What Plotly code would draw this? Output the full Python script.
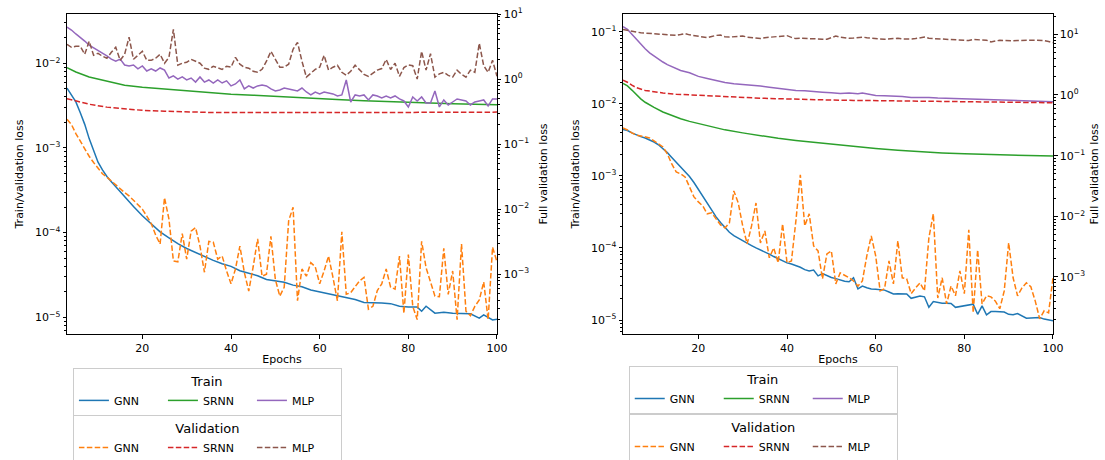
import plotly.graph_objects as go

# ---------------- data: left panel ----------------
EPOCHS = list(range(3, 101))

L_GNN_TRAIN_EP = [3, 4, 5, 6, 7, 8, 9, 10, 11, 12, 13, 14, 15, 16, 18, 20, 22, 24, 26, 28, 30, 32, 34, 36, 38,
                  40, 42, 44, 46, 48, 50, 52, 54, 56, 58, 60, 62, 64, 66, 68, 70, 72, 74, 76, 78, 80, 82, 83, 84,
                  86, 88, 90, 92, 94, 96, 97, 99, 100]
L_GNN_TRAIN = [5.1e-3, 4.3e-3, 3.5e-3, 2.6e-3, 1.9e-3, 1.29e-3, 9.3e-4, 6.8e-4, 5.5e-4, 4.6e-4, 4.0e-4, 3.5e-4,
               3.0e-4, 2.6e-4, 2.04e-4, 1.58e-4, 1.26e-4, 1.02e-4, 8.7e-5, 7.4e-5, 6.5e-5, 5.8e-5, 5.2e-5, 4.7e-5,
               4.3e-5, 4.0e-5, 3.55e-5, 3.3e-5, 3.1e-5, 2.8e-5, 2.7e-5, 2.6e-5, 2.4e-5, 2.3e-5, 2.1e-5, 2.0e-5,
               1.9e-5, 1.78e-5, 1.7e-5, 1.62e-5, 1.5e-5, 1.5e-5, 1.48e-5, 1.45e-5, 1.35e-5, 1.32e-5, 1.32e-5,
               1.18e-5, 1.35e-5, 1.12e-5, 1.15e-5, 1.12e-5, 1.1e-5, 1.1e-5, 9.8e-6, 1.07e-5, 9.3e-6, 9.5e-6]

L_SRNN_TRAIN_EP = [3, 5, 8, 12, 16, 20, 24, 28, 32, 36, 40, 45, 50, 55, 60, 65, 70, 75, 80, 85, 90, 95, 100]
L_SRNN_TRAIN = [8.9e-3, 7.9e-3, 6.9e-3, 6.1e-3, 5.5e-3, 5.2e-3, 5.0e-3, 4.8e-3, 4.6e-3, 4.45e-3, 4.32e-3, 4.2e-3,
                4.05e-3, 3.93e-3, 3.82e-3, 3.7e-3, 3.62e-3, 3.53e-3, 3.46e-3, 3.39e-3, 3.33e-3, 3.28e-3, 3.24e-3]

L_MLP_TRAIN = [2.68e-2, 2.47e-2, 2.22e-2, 2.04e-2, 1.83e-2, 1.64e-2, 1.52e-2, 1.44e-2, 1.33e-2, 1.22e-2,
               1.12e-2, 1.06e-2, 1.12e-2, 9.55e-3, 9.3e-3, 9.55e-3, 8.6e-3, 9.3e-3, 8.1e-3, 8.6e-3,
               8.1e-3, 8.8e-3, 8.3e-3, 6.7e-3, 7.1e-3, 6.5e-3, 6.9e-3, 6.35e-3, 6.7e-3, 6.0e-3,
               6.9e-3, 6.0e-3, 6.35e-3, 5.85e-3, 6.35e-3, 5.85e-3, 6.2e-3, 5.4e-3, 5.7e-3, 6.35e-3,
               4.98e-3, 5.4e-3, 5.1e-3, 5.4e-3, 5.55e-3, 5.4e-3, 4.98e-3, 4.71e-3, 4.84e-3, 5.1e-3,
               4.98e-3, 4.84e-3, 4.71e-3, 5.1e-3, 4.58e-3, 4.23e-3, 4.58e-3, 4.35e-3, 4.58e-3, 4.46e-3,
               4.35e-3, 4.11e-3, 4.23e-3, 6.35e-3, 3.49e-3, 4.23e-3, 4.11e-3, 4.23e-3, 3.69e-3, 4.23e-3,
               4.11e-3, 3.89e-3, 4.11e-3, 3.89e-3, 4.11e-3, 3.79e-3, 3.59e-3, 3.05e-3, 4.0e-3, 3.59e-3,
               4.0e-3, 3.4e-3, 3.4e-3, 4.71e-3, 3.05e-3, 3.69e-3, 3.22e-3, 3.49e-3, 3.79e-3, 3.69e-3,
               3.59e-3, 3.22e-3, 3.49e-3, 3.59e-3, 3.69e-3, 3.13e-3, 3.79e-3, 3.79e-3]

L_GNN_VAL = [0.24, 0.20, 0.145, 0.11, 0.085, 0.065, 0.052, 0.043, 0.035, 0.031,
             0.027, 0.023, 0.020, 0.018, 0.016, 0.0138, 0.0117, 0.010, 0.0078, 0.0060,
             0.0040, 0.0029, 0.015, 0.0070, 0.0016, 0.00155, 0.0042, 0.0017, 0.0046, 0.0052,
             0.0027, 0.00107, 0.0032, 0.0031, 0.0017, 0.0019, 0.00112, 0.00071, 0.0012, 0.0027,
             0.00107, 0.00055, 0.0013, 0.0035, 0.00093, 0.0010, 0.0038, 0.00083, 0.00046, 0.00063,
             0.0066, 0.0107, 0.00039, 0.0012, 0.00093, 0.0015, 0.0013, 0.00071, 0.00112, 0.0019,
             0.00089, 0.00039, 0.0045, 0.00049, 0.00052, 0.00063, 0.00079, 0.00089, 0.00029, 0.00032,
             0.00056, 0.00071, 0.0012, 0.00063, 0.00059, 0.0019, 0.00025, 0.0020, 0.00032, 0.00020,
             0.0032, 0.00126, 0.00079, 0.00046, 0.00045, 0.0025, 0.00049, 0.00112, 0.00020, 0.0029,
             0.00027, 0.00023, 0.00032, 0.00040, 0.00076, 0.00020, 0.0026, 0.00155]

L_SRNN_VAL_EP = [3, 5, 8, 12, 16, 20, 25, 30, 35, 40, 50, 60, 70, 80, 90, 100]
L_SRNN_VAL = [0.50, 0.46, 0.41, 0.37, 0.345, 0.33, 0.32, 0.312, 0.307, 0.305, 0.304, 0.304, 0.306, 0.307,
              0.309, 0.31]

L_MLP_VAL = [3.42, 3.08, 3.19, 3.19, 2.40, 3.81, 2.32, 2.49, 2.24, 2.09,
             2.58, 3.08, 1.94, 2.40, 4.39, 2.01, 2.32, 2.67, 1.94, 1.94,
             2.09, 2.40, 1.75, 2.16, 5.82, 1.63, 1.75, 1.81, 2.01, 1.88,
             1.75, 1.47, 1.41, 1.57, 1.47, 1.41, 1.57, 1.52, 2.16, 1.69,
             1.52, 1.47, 1.32, 1.27, 1.41, 1.88, 2.67, 2.01, 1.52, 1.52,
             1.69, 2.87, 3.67, 1.88, 1.07, 1.23, 1.41, 1.52, 2.32, 1.37,
             1.52, 1.63, 1.27, 1.14, 1.32, 1.63, 1.41, 1.18, 1.10, 1.23,
             1.37, 1.45, 2.0, 1.4, 1.75, 1.1, 1.5, 1.65, 1.6, 1.0,
             2.67, 1.37, 2.45, 1.07, 1.2, 1.27, 1.14, 1.07, 1.37, 1.18,
             1.07, 1.37, 1.27, 3.55, 1.6, 1.27, 1.94, 1.10]

# ---------------- data: right panel ----------------
R_GNN_TRAIN = [4.4e-3, 4.25e-3, 3.95e-3, 3.68e-3, 3.5e-3, 3.35e-3, 3.18e-3, 2.95e-3, 2.7e-3, 2.4e-3,
               2.1e-3, 1.8e-3, 1.55e-3, 1.35e-3, 1.15e-3, 9.8e-4, 8.1e-4, 6.5e-4, 5.2e-4, 4.1e-4,
               3.3e-4, 2.7e-4, 2.25e-4, 1.9e-4, 1.65e-4, 1.48e-4, 1.36e-4, 1.28e-4, 1.17e-4, 1.08e-4,
               1.0e-4, 9.4e-5, 8.8e-5, 8.2e-5, 7.6e-5, 7.1e-5, 6.6e-5, 6.2e-5, 6.0e-5, 5.7e-5,
               5.4e-5, 5.0e-5, 4.8e-5, 4.95e-5, 4.1e-5, 4.4e-5, 4.1e-5, 3.9e-5, 3.75e-5, 3.6e-5,
               3.45e-5, 3.4e-5, 3.85e-5, 2.7e-5, 2.95e-5, 2.8e-5, 2.7e-5, 2.68e-5, 2.64e-5, 2.6e-5,
               2.45e-5, 2.3e-5, 2.32e-5, 2.33e-5, 2.3e-5, 2.0e-5, 2.08e-5, 2.16e-5, 2.1e-5, 1.5e-5,
               1.8e-5, 1.75e-5, 1.71e-5, 1.71e-5, 1.7e-5, 1.5e-5, 1.53e-5, 1.57e-5, 1.6e-5, 1.66e-5,
               1.2e-5, 1.57e-5, 1.18e-5, 1.31e-5, 1.31e-5, 1.31e-5, 1.29e-5, 1.2e-5, 1.18e-5, 1.23e-5,
               1.15e-5, 1.06e-5, 1.07e-5, 1.08e-5, 1.08e-5, 1.03e-5, 1.0e-5, 9.8e-6]

R_SRNN_TRAIN_EP = [3, 4, 5, 6, 7, 8, 9, 10, 12, 14, 16, 18, 20, 23, 26, 30, 34, 38, 42, 46, 50, 55, 60, 65, 70,
                   75, 80, 85, 90, 95, 100]
R_SRNN_TRAIN = [0.0192, 0.0177, 0.0155, 0.0133, 0.0117, 0.0105, 9.6e-3, 8.9e-3, 7.7e-3, 6.9e-3, 6.2e-3, 5.7e-3,
                5.3e-3, 4.75e-3, 4.35e-3, 3.95e-3, 3.6e-3, 3.32e-3, 3.1e-3, 2.92e-3, 2.76e-3, 2.56e-3, 2.4e-3,
                2.27e-3, 2.16e-3, 2.08e-3, 2.02e-3, 1.98e-3, 1.94e-3, 1.91e-3, 1.88e-3]

R_MLP_TRAIN_EP = [3, 4, 5, 6, 7, 8, 9, 10, 11, 12, 13, 14, 15, 16, 18, 20, 22, 24, 26, 28, 30, 32, 34, 36, 38,
                  40, 42, 44, 46, 48, 50, 52, 54, 56, 57, 58, 60, 62, 64, 66, 68, 70, 72, 74, 76, 78, 80, 84, 88,
                  92, 96, 100]
R_MLP_TRAIN = [0.118, 0.108, 0.092, 0.078, 0.068, 0.058, 0.051, 0.046, 0.041, 0.038, 0.035, 0.033, 0.031, 0.029,
               0.027, 0.024, 0.0225, 0.021, 0.0198, 0.019, 0.0187, 0.0182, 0.0177, 0.017, 0.0164, 0.0158, 0.0153,
               0.0152, 0.015, 0.0145, 0.0142, 0.0139, 0.0141, 0.0138, 0.0141, 0.0138, 0.013, 0.0129, 0.0128,
               0.0126, 0.0122, 0.0123, 0.0122, 0.012, 0.0119, 0.0117, 0.0115, 0.0114, 0.0112, 0.011, 0.0109,
               0.0107]

R_GNN_VAL = [0.286, 0.265, 0.237, 0.219, 0.211, 0.203, 0.196, 0.175, 0.156, 0.139,
             0.107, 0.073, 0.0538, 0.050, 0.0446, 0.0305, 0.0209, 0.0173, 0.0148, 0.011,
             0.0114, 0.00906, 0.00722, 0.00644, 0.00778, 0.0262, 0.0166, 0.00695, 0.00351, 0.00695,
             0.0166, 0.00365, 0.00574, 0.00207, 0.00301, 0.00171, 0.0075, 0.00171, 0.00184, 0.0084,
             0.0481, 0.00695, 0.011, 0.00325, 0.00269, 9.3e-4, 0.0024, 0.00269, 7.7e-4, 0.00117,
             0.00108, 9.7e-4, 8.6e-4, 7.1e-4, 8.6e-4, 0.00223, 0.00475, 0.00223, 5.9e-4, 6.4e-4,
             0.00184, 7.7e-4, 0.00394, 9.7e-4, 9.3e-4, 5.3e-4, 6.6e-4, 8.0e-4, 5.9e-4, 0.0044,
             0.011, 4.5e-4, 9.7e-4, 3.6e-4, 7.1e-4, 4.9e-4, 0.00126, 5.3e-4, 0.00597, 2.56e-4,
             0.00279, 3.6e-4, 4.9e-4, 4.7e-4, 4.0e-4, 3.0e-4, 5.9e-4, 0.00365, 9.7e-4, 4.9e-4,
             6.6e-4, 8.0e-4, 6.9e-4, 4.0e-4, 2.04e-4, 2.77e-4, 2.56e-4, 9.7e-4]

R_SRNN_VAL_EP = [3, 4, 5, 6, 8, 10, 12, 15, 19, 23, 27, 31, 35, 40, 45, 50, 55, 60, 65, 70, 75, 80, 85, 90, 95,
                 100]
R_SRNN_VAL = [1.75, 1.62, 1.45, 1.32, 1.19, 1.13, 1.08, 1.03, 0.99, 0.96, 0.935, 0.905, 0.88, 0.855, 0.84, 0.825,
              0.815, 0.805, 0.797, 0.79, 0.783, 0.776, 0.768, 0.76, 0.753, 0.745]

R_MLP_VAL = [12.0, 11.6, 11.1, 10.8, 10.6, 10.5, 10.4, 10.3, 10.2, 10.1,
             10.0, 9.8, 9.6, 9.9, 10.3, 9.8, 9.6, 9.3, 9.0, 8.8,
             9.2, 9.6, 9.7, 9.1, 9.0, 9.2, 9.3, 9.4, 9.0, 8.8,
             8.6, 8.5, 8.8, 8.9, 9.0, 9.1, 9.3, 9.5, 8.9, 8.5,
             8.6, 8.6, 8.6, 8.5, 8.4, 8.3, 8.3, 8.8, 9.4, 9.0,
             8.7, 8.6, 8.7, 8.8, 9.0, 8.8, 8.6, 8.5, 8.4, 8.3,
             8.4, 8.5, 8.6, 8.4, 8.3, 8.4, 8.5, 8.7, 9.0, 8.6,
             8.5, 8.4, 8.3, 8.2, 8.1, 8.0, 7.9, 7.8, 7.9, 8.2,
             8.1, 8.0, 8.0, 7.5, 7.8, 8.0, 7.9, 7.8, 7.8, 7.9,
             8.0, 8.0, 8.0, 8.0, 8.0, 7.9, 7.6, 7.3]

MODELS = ["GNN", "SRNN", "MLP"]
TRAIN_COLORS = ["#1f77b4", "#2ca02c", "#9467bd"]
VAL_COLORS = ["#ff7f0e", "#d62728", "#8c564b"]

X_TICKS = [20, 40, 60, 80, 100]
Y_DECADES_L = [-5, -4, -3, -2]
Y_DECADES_L2 = [-3, -2, -1, 0, 1]
Y_DECADES_R = [-5, -4, -3, -2, -1]
Y_DECADES_R2 = [-3, -2, -1, 0, 1]

FONT = "DejaVu Sans"
DASH = "5.5px,2.4px"

fig = go.Figure()

panels = [
    dict(x="x", y="y", y2="y2", leg_t="legend", leg_v="legend2",
         train=[(L_GNN_TRAIN_EP, L_GNN_TRAIN), (L_SRNN_TRAIN_EP, L_SRNN_TRAIN), (EPOCHS, L_MLP_TRAIN)],
         val=[(EPOCHS, L_GNN_VAL), (L_SRNN_VAL_EP, L_SRNN_VAL), (EPOCHS, L_MLP_VAL)]),
    dict(x="x2", y="y3", y2="y4", leg_t="legend3", leg_v="legend4",
         train=[(EPOCHS, R_GNN_TRAIN), (R_SRNN_TRAIN_EP, R_SRNN_TRAIN), (R_MLP_TRAIN_EP, R_MLP_TRAIN)],
         val=[(EPOCHS, R_GNN_VAL), (R_SRNN_VAL_EP, R_SRNN_VAL), (EPOCHS, R_MLP_VAL)]),
]

for p in panels:
    for (ex, vals), name, col in zip(p["val"], MODELS, VAL_COLORS):
        fig.add_trace(go.Scatter(x=ex, y=vals, mode="lines", name=name, xaxis=p["x"], yaxis=p["y2"],
                                 line=dict(color=col, width=1.5, dash=DASH), legend=p["leg_v"]))
    for (ex, vals), name, col in zip(p["train"], MODELS, TRAIN_COLORS):
        fig.add_trace(go.Scatter(x=ex, y=vals, mode="lines", name=name, xaxis=p["x"], yaxis=p["y"],
                                 line=dict(color=col, width=1.5), legend=p["leg_t"]))

axis_common = dict(showline=True, linecolor="black", linewidth=1, ticks="outside", ticklen=3.5,
                   tickwidth=1, tickcolor="black", showgrid=False, zeroline=False, automargin=False,
                   tickfont=dict(family=FONT, size=11, color="black"))


def log_axis(decades, rng, title, standoff):
    vals = [10.0 ** d for d in decades]
    text = ["10<sup>%s%d</sup>" % ("\u2212" if d < 0 else "", abs(d)) for d in decades]
    minor_vals = [k * 10.0 ** d for d in range(-7, 3) for k in range(2, 10)]
    return dict(axis_common, type="log", range=rng, tickmode="array", tickvals=vals, ticktext=text,
                minor=dict(tickmode="array", tickvals=minor_vals, ticks="outside", ticklen=2,
                           tickwidth=0.8, tickcolor="black", showgrid=False),
                title=dict(text=title, font=dict(family=FONT, size=11, color="black"), standoff=standoff))


xcommon = dict(axis_common, range=[3, 100], tickmode="array", tickvals=X_TICKS, mirror=True,
               automargin=True,
               title=dict(text="Epochs", font=dict(family=FONT, size=11, color="black"), standoff=6))

fig.update_layout(
    template="none",
    width=1105, height=460,
    margin=dict(l=67, r=52, t=14, b=126, autoexpand=False),
    paper_bgcolor="white", plot_bgcolor="white",
    font=dict(family=FONT, size=11, color="black"),
    xaxis=dict(xcommon, domain=[0, 0.4361], anchor="y"),
    xaxis2=dict(xcommon, domain=[0.5639, 1], anchor="y3"),
    yaxis=dict(log_axis(Y_DECADES_L, [-5.197, -1.418], "Train/validation loss", 9), anchor="x"),
    yaxis2=dict(log_axis(Y_DECADES_L2, [-3.92, 1.0], "Full validation loss", 11),
                anchor="x", overlaying="y", side="right"),
    yaxis3=dict(log_axis(Y_DECADES_R, [-5.194, -0.754], "Train/validation loss", 9), anchor="x2"),
    yaxis4=dict(log_axis(Y_DECADES_R2, [-3.94, 1.335], "Full validation loss", 6),
                anchor="x2", overlaying="y3", side="right"),
    showlegend=True,
)

legend_common = dict(orientation="h", xanchor="left", yanchor="top", xref="container", yref="container",
                     bgcolor="rgba(255,255,255,0)", bordercolor="#cccccc", borderwidth=1, itemwidth=30,
                     font=dict(family=FONT, size=11, color="black"), entrywidth=44, tracegroupgap=0)
fig.update_layout(
    legend=dict(legend_common, x=0.066, y=0.200, title=dict(text="Train", side="top center")),
    legend2=dict(legend_common, x=0.066, y=0.0978, title=dict(text="Validation", side="top center")),
    legend3=dict(legend_common, x=0.569, y=0.2043, title=dict(text="Train", side="top center")),
    legend4=dict(legend_common, x=0.569, y=0.100, title=dict(text="Validation", side="top center")),
)

fig.write_html("out.html")
